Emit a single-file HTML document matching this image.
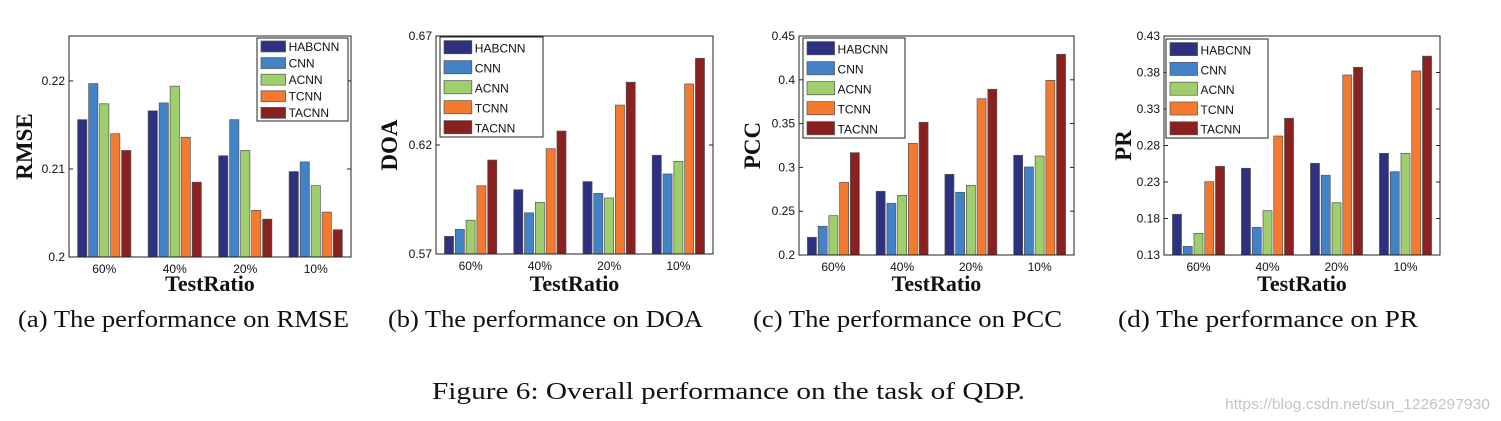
<!DOCTYPE html>
<html><head><meta charset="utf-8"><style>
body{margin:0;background:#fff;width:1501px;height:421px;overflow:hidden}
svg{display:block}
.tk{font-family:"Liberation Sans",sans-serif;font-size:12px;fill:#111}
.ttl{font-family:"Liberation Serif",serif;font-weight:bold;fill:#111}
.cap{font-family:"Liberation Serif",serif;font-size:24px;fill:#111}
</style></head><body>
<svg id="fig" width="1501" height="421">
<text class="cap" x="18" y="327" textLength="331" lengthAdjust="spacingAndGlyphs">(a) The performance on RMSE</text>
<text class="cap" x="388" y="327" textLength="315" lengthAdjust="spacingAndGlyphs">(b) The performance on DOA</text>
<text class="cap" x="753" y="327" textLength="309" lengthAdjust="spacingAndGlyphs">(c) The performance on PCC</text>
<text class="cap" x="1118" y="327" textLength="300" lengthAdjust="spacingAndGlyphs">(d) The performance on PR</text>
<text class="cap" x="432" y="399" textLength="593" lengthAdjust="spacingAndGlyphs">Figure 6: Overall performance on the task of QDP.</text>
<text x="1490" y="409" text-anchor="end" textLength="265" lengthAdjust="spacingAndGlyphs" style="font-family:'Liberation Sans',sans-serif;font-size:15px;fill:#c4c4c4">https://blog.csdn.net/sun_1226297930</text>
</svg>
<script>
const categories=["60%","40%","20%","10%"];
const seriesNames=["HABCNN","CNN","ACNN","TCNN","TACNN"];
const rmseHAB=[0.2156,0.2166,0.2115,0.2097];
const rmseCNN=[0.2197,0.2175,0.2156,0.2108];
const rmseACNN=[0.2174,0.2194,0.2121,0.2081];
const rmseTCNN=[0.2140,0.2136,0.2053,0.2051];
const rmseTACNN=[0.2121,0.2085,0.2043,0.2031];
const doaHAB=[0.5781,0.5995,0.6032,0.6153];
const doaCNN=[0.5813,0.5889,0.5978,0.6067];
const doaACNN=[0.5855,0.5937,0.5957,0.6125];
const doaTCNN=[0.6013,0.6183,0.6383,0.6480];
const doaTACNN=[0.6131,0.6264,0.6488,0.6598];
const pccHAB=[0.2202,0.2727,0.2921,0.3138];
const pccCNN=[0.2328,0.2590,0.2716,0.3005];
const pccACNN=[0.2449,0.2681,0.2796,0.3130];
const pccTCNN=[0.2830,0.3275,0.3784,0.3994];
const pccTACNN=[0.3168,0.3515,0.3892,0.4291];
const prHAB=[0.1858,0.2488,0.2556,0.2693];
const prCNN=[0.1419,0.1679,0.2392,0.2441];
const prACNN=[0.1597,0.1907,0.2016,0.2693];
const prTCNN=[0.2304,0.2930,0.3766,0.3821];
const prTACNN=[0.2515,0.3173,0.3871,0.4024];
const rmseTicks=["0.2","0.21","0.22"];
const doaTicks=["0.57","0.62","0.67"];
const pccTicks=["0.2","0.25","0.3","0.35","0.4","0.45"];
const prTicks=["0.13","0.18","0.23","0.28","0.33","0.38","0.43"];
const colors=["#2e3080","#4282c6","#9fcf6c","#f47a30","#8b2020"];
const NS="http://www.w3.org/2000/svg";
const svg=document.getElementById('fig');
function mk(tag,attrs,parent){const e=document.createElementNS(NS,tag);for(const k in attrs)e.setAttribute(k,attrs[k]);(parent||svg).appendChild(e);return e;}
const charts=[
 {id:'rmse',title:'RMSE',L:69,R:351,T:36,B:257,min:0.2,max:0.2251,ticks:rmseTicks,series:[rmseHAB,rmseCNN,rmseACNN,rmseTCNN,rmseTACNN],leg:[257,38,91,83],lf:12.5,tx:25},
 {id:'doa',title:'DOA',L:436,R:713,T:36,B:254,min:0.57,max:0.67,ticks:doaTicks,series:[doaHAB,doaCNN,doaACNN,doaTCNN,doaTACNN],leg:[440,37,103,100],lf:15.5,tx:390},
 {id:'pcc',title:'PCC',L:799,R:1074,T:36,B:255,min:0.2,max:0.45,ticks:pccTicks,series:[pccHAB,pccCNN,pccACNN,pccTCNN,pccTACNN],leg:[803,38,102,100],lf:15.5,tx:753},
 {id:'pr',title:'PR',L:1164,R:1440,T:36,B:255,min:0.13,max:0.43,ticks:prTicks,series:[prHAB,prCNN,prACNN,prTCNN,prTACNN],leg:[1166,39,102,99],lf:15.5,tx:1124}
];
charts.forEach(c=>{
 const g=mk('g',{});
 
 
 const y=v=>c.B-(v-c.min)/(c.max-c.min)*(c.B-c.T);
 const gw=(c.R-c.L)/categories.length;
 const pitch=gw*0.156, bw=pitch*0.84;
 c.series.forEach((arr,si)=>{
  arr.forEach((v,ci)=>{
   const cx=c.L+gw*(ci+0.5);
   const x=cx+(si-2)*pitch-bw/2;
   const r=mk('rect',{x:x,y:y(v),width:bw,height:c.B-y(v),fill:colors[si],stroke:'#555','stroke-width':0.7},g);
   
   
  });
 });
 const fr=mk('rect',{x:c.L,y:c.T,width:c.R-c.L,height:c.B-c.T,fill:'none',stroke:'#222','stroke-width':1},g);
 
 
 c.ticks.forEach(t=>{
  const v=parseFloat(t),yy=y(v);
  mk('line',{x1:c.L,x2:c.L+4,y1:yy,y2:yy,stroke:'#222'},g);
  mk('line',{x1:c.R,x2:c.R-4,y1:yy,y2:yy,stroke:'#222'},g);
  const tx=mk('text',{x:c.L-4,y:yy+4,'text-anchor':'end',class:'tk','font-size':13},g);
  tx.textContent=t;
  
  
 });
 categories.forEach((cat,ci)=>{
  const cx=c.L+gw*(ci+0.5);
  const tx=mk('text',{x:cx,y:c.B+16,'text-anchor':'middle',class:'tk'},g);
  tx.textContent=cat;
  
  
 });
 const xt=mk('text',{x:(c.L+c.R)/2,y:291,'text-anchor':'middle',class:'ttl','font-size':22},g);
 xt.textContent='TestRatio';
 
 
 const ym=(c.T+c.B)/2;
 const yt=mk('text',{x:c.tx,y:ym,'text-anchor':'middle',class:'ttl','font-size':23,transform:'rotate(-90 '+(c.tx)+' '+ym+')',dy:7},g);
 yt.textContent=c.title;
 
 
 const [lx,ly,lw,lh]=c.leg;
 const lg=mk('g',{},g);
 
 
 mk('rect',{x:lx,y:ly,width:lw,height:lh,fill:'#fff',stroke:'#222'},lg);
 const rh=lh/5;
 seriesNames.forEach((n,si)=>{
  const ry=ly+rh*si;
  const sw=mk('rect',{x:lx+4,y:ry+rh*0.18,width:lw*0.27,height:rh*0.66,fill:colors[si],stroke:'#555','stroke-width':0.7},lg);
  
  
  const t=mk('text',{x:lx+7+lw*0.27,y:ry+rh*0.5+c.lf*0.36,class:'tk','font-size':c.lf},lg);
  t.textContent=n;
  
  
 });
});
</script>
</body></html>
